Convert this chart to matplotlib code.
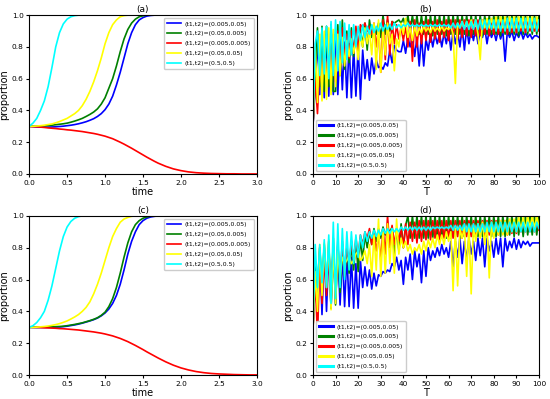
import matplotlib
matplotlib.use("Agg")
import matplotlib.pyplot as plt

# --- labels ---
labels = ["(t1,t2)=(0.005,0.05)", "(t1,t2)=(0.05,0.005)", "(t1,t2)=(0.005,0.005)",
          "(t1,t2)=(0.05,0.05)", "(t1,t2)=(0.5,0.5)"]
colors = ["blue", "green", "red", "yellow", "cyan"]

# --- left panels: time grid ---
time = [0.0, 0.05, 0.1, 0.15, 0.2, 0.25, 0.3, 0.35, 0.4, 0.45,
        0.5, 0.55, 0.6, 0.65, 0.7, 0.75, 0.8, 0.85, 0.9, 0.95,
        1.0, 1.05, 1.1, 1.15, 1.2, 1.25, 1.3, 1.35, 1.4, 1.45,
        1.5, 1.55, 1.6, 1.65, 1.7, 1.75, 1.8,
        1.9, 2.0, 2.1, 2.2, 2.3, 2.4, 2.5, 2.6, 2.7, 2.8, 2.9, 3.0]

# panel (a)
a_blue = [0.300, 0.298, 0.296, 0.295, 0.295, 0.295, 0.296, 0.297, 0.299, 0.301,
          0.304, 0.307, 0.311, 0.316, 0.322, 0.329, 0.338, 0.348, 0.362, 0.380,
          0.405, 0.440, 0.490, 0.560, 0.640, 0.730, 0.820, 0.890, 0.940, 0.970,
          0.985, 0.994, 0.998, 1.0, 1.0, 1.0, 1.0,
          1.0, 1.0, 1.0, 1.0, 1.0, 1.0, 1.0, 1.0, 1.0, 1.0, 1.0, 1.0]
a_green = [0.300, 0.300, 0.301, 0.302, 0.303, 0.305, 0.307, 0.310, 0.313, 0.316,
           0.320, 0.326, 0.333, 0.341, 0.350, 0.362, 0.375, 0.390, 0.410, 0.440,
           0.480, 0.540, 0.600, 0.680, 0.770, 0.850, 0.910, 0.950, 0.975, 0.990,
           0.996, 1.0, 1.0, 1.0, 1.0, 1.0, 1.0,
           1.0, 1.0, 1.0, 1.0, 1.0, 1.0, 1.0, 1.0, 1.0, 1.0, 1.0, 1.0]
a_red = [0.300, 0.298, 0.297, 0.295, 0.293, 0.290, 0.288, 0.286, 0.283, 0.281,
         0.278, 0.276, 0.273, 0.270, 0.267, 0.263, 0.259, 0.255, 0.250, 0.244,
         0.238, 0.230, 0.222, 0.211, 0.200, 0.188, 0.175, 0.162, 0.148, 0.134,
         0.120, 0.106, 0.093, 0.080, 0.068, 0.058, 0.048,
         0.032, 0.021, 0.013, 0.008, 0.005, 0.003, 0.002, 0.001, 0.001, 0.0, 0.0, 0.0]
a_yellow = [0.300, 0.300, 0.302, 0.304, 0.307, 0.311, 0.315, 0.322, 0.330, 0.340,
            0.350, 0.365, 0.380, 0.400, 0.430, 0.470, 0.520, 0.580, 0.650, 0.730,
            0.820, 0.890, 0.940, 0.970, 0.990, 0.997, 1.0, 1.0, 1.0, 1.0,
            1.0, 1.0, 1.0, 1.0, 1.0, 1.0, 1.0,
            1.0, 1.0, 1.0, 1.0, 1.0, 1.0, 1.0, 1.0, 1.0, 1.0, 1.0, 1.0]
a_cyan = [0.30, 0.32, 0.35, 0.40, 0.46, 0.55, 0.67, 0.80, 0.89, 0.945,
          0.975, 0.99, 0.997, 1.0, 1.0, 1.0, 1.0, 1.0, 1.0, 1.0,
          1.0, 1.0, 1.0, 1.0, 1.0, 1.0, 1.0, 1.0, 1.0, 1.0,
          1.0, 1.0, 1.0, 1.0, 1.0, 1.0, 1.0,
          1.0, 1.0, 1.0, 1.0, 1.0, 1.0, 1.0, 1.0, 1.0, 1.0, 1.0, 1.0]

# panel (c)
c_blue = [0.300, 0.299, 0.299, 0.299, 0.299, 0.300, 0.300, 0.301, 0.302, 0.304,
          0.307, 0.311, 0.315, 0.320, 0.326, 0.333, 0.340, 0.348, 0.358, 0.372,
          0.390, 0.415, 0.450, 0.500, 0.570, 0.660, 0.760, 0.840, 0.900, 0.945,
          0.970, 0.985, 0.993, 0.997, 1.0, 1.0, 1.0,
          1.0, 1.0, 1.0, 1.0, 1.0, 1.0, 1.0, 1.0, 1.0, 1.0, 1.0, 1.0]
c_green = [0.300, 0.300, 0.300, 0.301, 0.301, 0.302, 0.303, 0.304, 0.305, 0.307,
           0.310, 0.314, 0.318, 0.323, 0.328, 0.335, 0.342, 0.350, 0.360, 0.375,
           0.395, 0.430, 0.480, 0.550, 0.640, 0.740, 0.830, 0.900, 0.945, 0.970,
           0.985, 0.993, 0.998, 1.0, 1.0, 1.0, 1.0,
           1.0, 1.0, 1.0, 1.0, 1.0, 1.0, 1.0, 1.0, 1.0, 1.0, 1.0, 1.0]
c_red = [0.300, 0.300, 0.299, 0.298, 0.297, 0.296, 0.295, 0.294, 0.292, 0.291,
         0.289, 0.287, 0.285, 0.283, 0.280, 0.277, 0.274, 0.271, 0.267, 0.263,
         0.258, 0.252, 0.246, 0.238, 0.230, 0.220, 0.210, 0.198, 0.186, 0.173,
         0.160, 0.146, 0.133, 0.120, 0.107, 0.095, 0.083,
         0.062, 0.045, 0.032, 0.022, 0.015, 0.010, 0.007, 0.005, 0.003, 0.002, 0.001, 0.001]
c_yellow = [0.300, 0.300, 0.301, 0.303, 0.305, 0.308, 0.312, 0.317, 0.323, 0.331,
            0.340, 0.352, 0.365, 0.380, 0.400, 0.425, 0.460, 0.510, 0.570, 0.640,
            0.720, 0.800, 0.870, 0.920, 0.960, 0.980, 0.990, 0.997, 1.0, 1.0,
            1.0, 1.0, 1.0, 1.0, 1.0, 1.0, 1.0,
            1.0, 1.0, 1.0, 1.0, 1.0, 1.0, 1.0, 1.0, 1.0, 1.0, 1.0, 1.0]
c_cyan = [0.30, 0.31, 0.33, 0.36, 0.40, 0.47, 0.56, 0.67, 0.78, 0.87,
          0.93, 0.965, 0.985, 0.995, 1.0, 1.0, 1.0, 1.0, 1.0, 1.0,
          1.0, 1.0, 1.0, 1.0, 1.0, 1.0, 1.0, 1.0, 1.0, 1.0,
          1.0, 1.0, 1.0, 1.0, 1.0, 1.0, 1.0,
          1.0, 1.0, 1.0, 1.0, 1.0, 1.0, 1.0, 1.0, 1.0, 1.0, 1.0, 1.0]

# --- right panels: T = 0..100 ---
T = list(range(101))

# panel (b)
b_blue = [0.30, 0.55, 0.85, 0.50, 0.88, 0.48, 0.88, 0.49, 0.88, 0.50,
          0.88, 0.50, 0.85, 0.53, 0.83, 0.48, 0.82, 0.48, 0.80, 0.49,
          0.80, 0.47, 0.78, 0.60, 0.72, 0.59, 0.73, 0.63, 0.72, 0.67,
          0.68, 0.66, 0.70, 0.68, 0.78, 0.70, 0.81, 0.78, 0.77, 0.77,
          0.84, 0.76, 0.86, 0.80, 0.86, 0.74, 0.86, 0.68, 0.87, 0.68,
          0.85, 0.78, 0.88, 0.80, 0.88, 0.82, 0.88, 0.80, 0.89, 0.82,
          0.90, 0.78, 0.90, 0.82, 0.90, 0.80, 0.92, 0.78, 0.92, 0.82,
          0.91, 0.84, 0.92, 0.82, 0.90, 0.86, 0.92, 0.82, 0.91, 0.86,
          0.90, 0.84, 0.91, 0.85, 0.90, 0.71, 0.90, 0.86, 0.90, 0.84,
          0.89, 0.86, 0.90, 0.85, 0.89, 0.86, 0.88, 0.85, 0.87, 0.87,
          0.86]
b_green = [0.30, 0.60, 0.92, 0.55, 0.93, 0.52, 0.93, 0.55, 0.94, 0.52,
           0.52, 0.94, 0.62, 0.97, 0.66, 0.90, 0.70, 0.92, 0.74, 0.91,
           0.76, 0.92, 0.80, 0.95, 0.78, 0.97, 0.86, 0.92, 0.88, 0.95,
           0.86, 1.00, 0.88, 0.97, 0.90, 0.96, 0.95, 0.96, 0.97, 0.95,
           0.98, 0.92, 1.00, 0.90, 1.00, 0.89, 1.00, 0.88, 1.00, 0.88,
           1.00, 0.88, 1.00, 0.87, 1.00, 0.88, 1.00, 0.88, 1.00, 0.87,
           1.00, 0.88, 1.00, 0.88, 1.00, 0.88, 1.00, 0.88, 1.00, 0.87,
           1.00, 0.88, 1.00, 0.88, 1.00, 0.87, 1.00, 0.88, 1.00, 0.88,
           1.00, 0.88, 1.00, 0.87, 1.00, 0.88, 1.00, 0.88, 1.00, 0.88,
           1.00, 0.87, 1.00, 0.88, 1.00, 0.88, 1.00, 0.88, 1.00, 0.88,
           1.00]
b_red = [0.30, 0.60, 0.38, 0.70, 0.55, 0.80, 0.58, 0.85, 0.60, 0.88,
         0.58, 0.90, 0.66, 0.92, 0.72, 0.88, 0.73, 0.90, 0.76, 0.93,
         0.78, 0.94, 0.92, 0.95, 0.90, 0.93, 0.88, 0.95, 0.80, 0.92,
         0.64, 0.97, 0.72, 1.00, 0.75, 0.96, 0.82, 0.94, 0.85, 0.92,
         0.84, 0.93, 0.80, 0.96, 0.71, 0.97, 0.80, 0.95, 0.82, 0.96,
         0.84, 0.97, 0.83, 0.96, 0.85, 0.97, 0.83, 0.96, 0.86, 0.97,
         0.84, 0.97, 0.86, 0.97, 0.85, 0.97, 0.86, 0.97, 0.87, 0.97,
         0.86, 0.97, 0.87, 0.97, 0.87, 0.97, 0.88, 0.97, 0.87, 0.97,
         0.88, 0.97, 0.88, 0.97, 0.89, 0.97, 0.88, 0.97, 0.89, 0.97,
         0.89, 0.97, 0.90, 0.97, 0.89, 0.97, 0.90, 0.97, 0.90, 0.97,
         0.90]
b_yellow = [0.30, 0.80, 0.45, 0.88, 0.46, 0.90, 0.47, 0.92, 0.50, 0.91,
            0.55, 0.88, 0.62, 0.86, 0.68, 0.84, 0.74, 0.85, 0.76, 0.84,
            0.72, 0.88, 0.80, 0.92, 0.82, 0.90, 0.75, 0.95, 0.66, 0.97,
            0.64, 0.92, 0.75, 0.95, 0.82, 0.88, 0.65, 0.85, 0.80, 0.95,
            0.88, 0.98, 0.86, 0.92, 0.84, 0.93, 0.87, 0.92, 0.89, 0.93,
            0.90, 0.92, 0.89, 0.93, 0.90, 0.92, 0.90, 0.93, 0.90, 0.92,
            0.91, 0.93, 0.88, 0.57, 0.95, 0.92, 0.96, 0.92, 0.96, 0.92,
            0.97, 0.92, 0.97, 0.88, 0.72, 0.97, 0.92, 0.98, 0.92, 0.98,
            0.92, 0.99, 0.92, 0.99, 0.92, 0.99, 0.92, 0.99, 0.92, 0.99,
            0.92, 0.99, 0.92, 0.99, 0.92, 0.99, 0.92, 0.99, 0.92, 0.99,
            0.92]
b_cyan = [0.30, 0.82, 0.90, 0.62, 0.92, 0.63, 0.93, 0.60, 0.96, 0.62,
          0.97, 0.65, 0.96, 0.70, 0.95, 0.72, 0.94, 0.75, 0.94, 0.80,
          0.93, 0.84, 0.94, 0.86, 0.93, 0.88, 0.94, 0.89, 0.93, 0.90,
          0.95, 0.90, 0.94, 0.91, 0.94, 0.91, 0.95, 0.92, 0.94, 0.92,
          0.94, 0.93, 0.95, 0.93, 0.94, 0.93, 0.94, 0.93, 0.94, 0.93,
          0.94, 0.93, 0.94, 0.93, 0.94, 0.93, 0.94, 0.93, 0.94, 0.93,
          0.94, 0.92, 0.95, 0.92, 0.95, 0.92, 0.96, 0.91, 0.96, 0.91,
          0.96, 0.91, 0.97, 0.91, 0.97, 0.91, 0.97, 0.91, 0.97, 0.91,
          0.97, 0.90, 0.97, 0.90, 0.97, 0.90, 0.98, 0.90, 0.98, 0.90,
          0.98, 0.90, 0.98, 0.90, 0.98, 0.90, 0.98, 0.90, 0.98, 0.90,
          0.97]

# panel (d)
d_blue = [0.28, 0.72, 0.34, 0.80, 0.38, 0.80, 0.40, 0.80, 0.42, 0.80,
          0.45, 0.78, 0.44, 0.76, 0.43, 0.76, 0.43, 0.74, 0.42, 0.70,
          0.42, 0.72, 0.55, 0.68, 0.56, 0.66, 0.54, 0.64, 0.56, 0.63,
          0.62, 0.65, 0.64, 0.66, 0.65, 0.70, 0.68, 0.74, 0.66, 0.72,
          0.57, 0.74, 0.66, 0.76, 0.60, 0.78, 0.68, 0.76, 0.58, 0.78,
          0.62, 0.80, 0.72, 0.78, 0.74, 0.80, 0.75, 0.82, 0.76, 0.80,
          0.74, 0.84, 0.68, 0.84, 0.74, 0.86, 0.70, 0.84, 0.72, 0.86,
          0.76, 0.84, 0.72, 0.86, 0.75, 0.86, 0.68, 0.86, 0.78, 0.84,
          0.74, 0.86, 0.76, 0.86, 0.68, 0.86, 0.78, 0.84, 0.80, 0.86,
          0.79, 0.85, 0.80, 0.84, 0.82, 0.84, 0.81, 0.83, 0.83, 0.83,
          0.83]
d_green = [0.28, 0.70, 0.55, 0.80, 0.56, 0.82, 0.55, 0.84, 0.42, 0.86,
           0.44, 0.84, 0.52, 0.82, 0.62, 0.80, 0.64, 0.82, 0.66, 0.84,
           0.65, 0.86, 0.72, 0.88, 0.80, 0.90, 0.82, 0.92, 0.84, 0.92,
           0.86, 0.93, 0.88, 0.92, 0.90, 0.93, 0.75, 0.92, 0.78, 0.95,
           0.80, 0.94, 1.00, 0.86, 1.00, 0.86, 1.00, 0.86, 1.00, 0.86,
           1.00, 0.86, 1.00, 0.86, 1.00, 0.86, 1.00, 0.86, 1.00, 0.86,
           1.00, 0.86, 1.00, 0.87, 1.00, 0.86, 1.00, 0.87, 1.00, 0.87,
           1.00, 0.87, 1.00, 0.87, 1.00, 0.87, 1.00, 0.87, 1.00, 0.87,
           1.00, 0.87, 1.00, 0.87, 1.00, 0.87, 1.00, 0.88, 1.00, 0.87,
           1.00, 0.88, 1.00, 0.87, 1.00, 0.88, 1.00, 0.88, 1.00, 0.88,
           1.00]
d_red = [0.28, 0.60, 0.25, 0.70, 0.45, 0.75, 0.50, 0.78, 0.55, 0.80,
         0.50, 0.82, 0.58, 0.84, 0.62, 0.80, 0.68, 0.84, 0.72, 0.86,
         0.75, 0.88, 0.82, 0.90, 0.86, 0.92, 0.82, 0.90, 0.78, 0.88,
         0.72, 0.92, 0.76, 1.00, 0.80, 0.94, 0.82, 0.92, 0.84, 0.93,
         0.80, 0.95, 0.82, 0.96, 0.84, 0.96, 0.83, 0.97, 0.84, 0.97,
         0.85, 0.97, 0.85, 0.97, 0.86, 0.97, 0.85, 0.97, 0.86, 0.97,
         0.86, 0.97, 0.86, 0.97, 0.87, 0.97, 0.86, 0.97, 0.87, 0.97,
         0.87, 0.97, 0.87, 0.97, 0.88, 0.97, 0.87, 0.97, 0.88, 0.97,
         0.88, 0.97, 0.88, 0.97, 0.89, 0.97, 0.88, 0.97, 0.89, 0.96,
         0.89, 0.96, 0.90, 0.96, 0.90, 0.96, 0.90, 0.96, 0.90, 0.96,
         0.91]
d_yellow = [0.28, 0.65, 0.40, 0.82, 0.50, 0.83, 0.55, 0.85, 0.41, 0.80,
            0.45, 0.78, 0.62, 0.74, 0.70, 0.72, 0.75, 0.70, 0.72, 0.76,
            0.78, 0.72, 0.74, 0.78, 0.70, 0.82, 0.62, 0.88, 0.66, 0.98,
            0.62, 0.90, 0.64, 0.95, 0.70, 0.92, 0.64, 0.98, 0.76, 0.86,
            0.80, 0.84, 0.78, 0.82, 0.76, 0.80, 0.78, 0.82, 0.76, 0.84,
            0.78, 0.85, 0.80, 0.86, 0.80, 0.88, 0.82, 0.88, 0.82, 0.90,
            0.84, 0.90, 0.53, 0.92, 0.56, 0.92, 0.86, 0.93, 0.62, 0.94,
            0.51, 0.94, 0.84, 0.95, 0.86, 0.96, 0.82, 0.95, 0.61, 0.96,
            0.86, 0.96, 0.88, 0.97, 0.88, 0.97, 0.88, 0.98, 0.90, 0.98,
            0.90, 0.99, 0.91, 0.99, 0.91, 1.00, 0.92, 1.00, 0.92, 1.00,
            0.93]
d_cyan = [0.28, 0.82, 0.55, 0.82, 0.58, 0.85, 0.55, 0.88, 0.45, 0.96,
          0.48, 0.95, 0.55, 0.92, 0.60, 0.90, 0.66, 0.90, 0.70, 0.88,
          0.74, 0.88, 0.80, 0.90, 0.84, 0.90, 0.86, 0.91, 0.87, 0.91,
          0.88, 0.92, 0.89, 0.92, 0.89, 0.92, 0.90, 0.92, 0.90, 0.93,
          0.91, 0.93, 0.91, 0.93, 0.91, 0.93, 0.91, 0.93, 0.91, 0.93,
          0.91, 0.93, 0.91, 0.93, 0.92, 0.93, 0.92, 0.93, 0.92, 0.93,
          0.92, 0.94, 0.91, 0.94, 0.91, 0.94, 0.91, 0.95, 0.90, 0.95,
          0.90, 0.95, 0.90, 0.95, 0.90, 0.95, 0.90, 0.96, 0.90, 0.96,
          0.90, 0.96, 0.90, 0.96, 0.90, 0.96, 0.90, 0.96, 0.90, 0.96,
          0.90, 0.96, 0.90, 0.96, 0.90, 0.96, 0.90, 0.96, 0.90, 0.96,
          0.92]

fig = plt.figure(figsize=(5.5, 3.99), dpi=100)

def style(ax, title, xlab):
    ax.set_ylim(0, 1)
    ax.set_title(title, fontsize=6.5, pad=2)
    ax.set_xlabel(xlab, fontsize=7, labelpad=1)
    ax.set_ylabel('proportion', fontsize=7, labelpad=2)
    ax.tick_params(labelsize=5.3, length=2.5, pad=1.5)

def left_panel(rect, title, series):
    ax = fig.add_axes(rect)
    for ys, c, lab in zip(series, colors, labels):
        ax.plot(time, ys, color=c, lw=1.2, label=lab)
    ax.set_xlim(0, 3)
    ax.set_xticks([0, 0.5, 1.0, 1.5, 2.0, 2.5, 3.0])
    style(ax, title, 'time')
    ax.legend(loc='upper right', fontsize=4.4, handlelength=2.2, borderpad=0.5,
              labelspacing=0.75, handletextpad=0.6, framealpha=1)
    return ax

def right_panel(rect, title, series):
    ax = fig.add_axes(rect)
    for ys, c, lab in zip(series, colors, labels):
        ax.plot(T, ys, color=c, lw=1.2, label=lab)
    ax.set_xlim(0, 100)
    ax.set_xticks(range(0, 101, 10))
    style(ax, title, 'T')
    leg = ax.legend(loc='lower left', fontsize=4.4, handlelength=2.2, borderpad=0.5,
                    labelspacing=0.75, handletextpad=0.6, framealpha=1)
    for h in leg.get_lines():
        h.set_linewidth(2.2)
    return ax

left_panel([0.053, 0.564, 0.414, 0.398], '(a)',
           [a_blue, a_green, a_red, a_yellow, a_cyan])
right_panel([0.569, 0.564, 0.411, 0.398], '(b)',
            [b_blue, b_green, b_red, b_yellow, b_cyan])
left_panel([0.053, 0.060, 0.414, 0.399], '(c)',
           [c_blue, c_green, c_red, c_yellow, c_cyan])
right_panel([0.569, 0.060, 0.411, 0.399], '(d)',
            [d_blue, d_green, d_red, d_yellow, d_cyan])

fig.savefig('out.png', dpi=100)
